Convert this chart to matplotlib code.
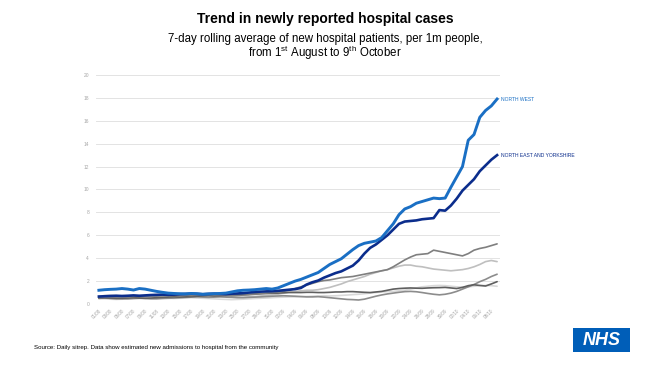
import matplotlib
matplotlib.use("Agg")
import matplotlib.pyplot as plt
from matplotlib.patches import Rectangle
import datetime as dt

plt.rcParams['font.family'] = ['Liberation Sans', 'DejaVu Sans']
plt.rcParams['mathtext.fontset'] = 'custom'
plt.rcParams['mathtext.rm'] = 'Liberation Sans'

start = dt.date(2020, 8, 1)
dates = [start + dt.timedelta(days=i) for i in range(70)]
tick_labels = [d.strftime("%d/%m") for d in dates]

north_west = [1.20, 1.25, 1.28, 1.30, 1.35, 1.30, 1.22, 1.35, 1.30, 1.20,
              1.10, 1.02, 0.95, 0.92, 0.90, 0.88, 0.92, 0.90, 0.85, 0.88,
              0.90, 0.92, 0.95, 1.05, 1.15, 1.20, 1.22, 1.25, 1.30, 1.35,
              1.30, 1.40, 1.60, 1.80, 2.00, 2.15, 2.35, 2.55, 2.75, 3.10,
              3.45, 3.70, 3.95, 4.35, 4.75, 5.10, 5.30, 5.40, 5.50, 5.80,
              6.40, 7.00, 7.80, 8.30, 8.50, 8.80, 8.95, 9.10, 9.25, 9.20,
              9.25, 10.20, 11.10, 12.00, 14.30, 14.80, 16.30, 16.90, 17.30, 17.90]

north_east_yorks = [0.65, 0.68, 0.70, 0.72, 0.70, 0.72, 0.75, 0.72, 0.75, 0.78,
                    0.80, 0.82, 0.80, 0.82, 0.85, 0.88, 0.90, 0.88, 0.85, 0.88,
                    0.90, 0.88, 0.86, 0.90, 0.92, 0.95, 1.00, 1.05, 1.08, 1.10,
                    1.12, 1.15, 1.20, 1.25, 1.30, 1.40, 1.70, 1.90, 2.05, 2.30,
                    2.50, 2.70, 2.85, 3.10, 3.35, 3.80, 4.40, 4.90, 5.20, 5.60,
                    6.00, 6.50, 7.00, 7.20, 7.25, 7.30, 7.40, 7.45, 7.50, 8.20,
                    8.15, 8.60, 9.20, 9.90, 10.40, 10.90, 11.60, 12.10, 12.60, 13.00]

midlands = [0.55, 0.55, 0.58, 0.60, 0.62, 0.60, 0.65, 0.68, 0.70, 0.72,
            0.70, 0.72, 0.75, 0.78, 0.80, 0.78, 0.75, 0.78, 0.80, 0.82,
            0.80, 0.78, 0.75, 0.72, 0.75, 0.78, 0.80, 0.85, 0.90, 0.95,
            1.00, 1.05, 1.10, 1.20, 1.35, 1.50, 1.65, 1.80, 1.95, 2.05,
            2.10, 2.20, 2.30, 2.35, 2.40, 2.50, 2.60, 2.70, 2.80, 2.90,
            3.00, 3.25, 3.55, 3.85, 4.10, 4.30, 4.35, 4.40, 4.70, 4.60,
            4.50, 4.40, 4.30, 4.20, 4.40, 4.70, 4.85, 4.95, 5.10, 5.25]

london = [0.70, 0.72, 0.75, 0.72, 0.70, 0.68, 0.65, 0.62, 0.65, 0.68,
          0.70, 0.72, 0.70, 0.68, 0.70, 0.72, 0.75, 0.78, 0.80, 0.78,
          0.75, 0.70, 0.68, 0.65, 0.62, 0.60, 0.62, 0.65, 0.70, 0.75,
          0.80, 0.85, 0.95, 1.05, 1.10, 1.15, 1.20, 1.20, 1.25, 1.35,
          1.45, 1.60, 1.75, 1.95, 2.10, 2.25, 2.40, 2.60, 2.75, 2.90,
          3.00, 3.15, 3.30, 3.40, 3.40, 3.30, 3.25, 3.15, 3.05, 3.00,
          2.95, 2.90, 2.95, 3.00, 3.10, 3.25, 3.45, 3.70, 3.80, 3.70]

south_west = [0.50, 0.52, 0.50, 0.48, 0.50, 0.52, 0.55, 0.52, 0.50, 0.52,
              0.55, 0.58, 0.60, 0.62, 0.60, 0.62, 0.65, 0.68, 0.70, 0.72,
              0.70, 0.72, 0.75, 0.78, 0.80, 0.82, 0.85, 0.88, 0.90, 0.92,
              0.95, 0.95, 0.98, 1.00, 1.00, 1.00, 1.02, 1.02, 1.00, 1.00,
              1.02, 1.05, 1.05, 1.08, 1.08, 1.05, 1.02, 1.00, 1.05, 1.10,
              1.20, 1.30, 1.35, 1.38, 1.40, 1.38, 1.37, 1.40, 1.42, 1.43,
              1.45, 1.40, 1.35, 1.45, 1.60, 1.68, 1.62, 1.57, 1.75, 1.95]

east_of_england = [0.55, 0.52, 0.50, 0.48, 0.45, 0.45, 0.48, 0.50, 0.48, 0.45,
                   0.45, 0.48, 0.50, 0.52, 0.55, 0.58, 0.60, 0.62, 0.60, 0.58,
                   0.60, 0.62, 0.60, 0.58, 0.55, 0.55, 0.58, 0.60, 0.62, 0.65,
                   0.68, 0.70, 0.72, 0.70, 0.68, 0.65, 0.62, 0.62, 0.64, 0.60,
                   0.55, 0.50, 0.45, 0.40, 0.38, 0.35, 0.42, 0.55, 0.68, 0.79,
                   0.88, 0.95, 1.02, 1.08, 1.10, 1.07, 1.00, 0.92, 0.85, 0.80,
                   0.85, 0.95, 1.10, 1.30, 1.50, 1.70, 1.95, 2.15, 2.40, 2.60]

south_east = [0.45, 0.45, 0.42, 0.40, 0.42, 0.45, 0.48, 0.50, 0.52, 0.55,
              0.55, 0.52, 0.50, 0.48, 0.50, 0.52, 0.55, 0.52, 0.50, 0.48,
              0.45, 0.42, 0.40, 0.38, 0.40, 0.42, 0.45, 0.48, 0.50, 0.52,
              0.55, 0.58, 0.60, 0.62, 0.62, 0.64, 0.66, 0.68, 0.70, 0.72,
              0.70, 0.72, 0.75, 0.78, 0.82, 0.85, 0.90, 0.95, 1.00, 1.05,
              1.08, 1.10, 1.15, 1.20, 1.30, 1.40, 1.50, 1.55, 1.60, 1.62,
              1.60, 1.55, 1.50, 1.48, 1.50, 1.55, 1.60, 1.62, 1.60, 1.55]

grey_series = [
    (south_east, "#d9d9d9"),
    (london, "#bfbfbf"),
    (east_of_england, "#8c8c8c"),
    (south_west, "#5f5f5f"),
    (midlands, "#7f7f7f"),
]

fig = plt.figure(figsize=(6.5, 3.73), dpi=100)
fig.patch.set_facecolor("white")
ax = fig.add_axes([0.1477, 0.185, 0.6215, 0.614])

x = list(range(len(dates)))
for vals, col in grey_series:
    ax.plot(x, vals, color=col, lw=1.2, solid_capstyle="round", zorder=2)

ax.plot(x, north_east_yorks, color="#0b2d8c", lw=1.9, zorder=3)
ax.plot(x, north_west, color="#1a6fc4", lw=2.1, zorder=4)

ax.text(x[-1] + 0.6, north_west[-1], "NORTH WEST", color="#1a6fc4",
        fontsize=3.6, va="center", ha="left")
ax.text(x[-1] + 0.6, north_east_yorks[-1], "NORTH EAST AND YORKSHIRE",
        color="#0b2d8c", fontsize=3.6, va="center", ha="left")

ax.set_xlim(-0.5, 69.5)
ax.set_ylim(0, 20)
ax.set_yticks(range(0, 21, 2))
ax.set_xticks(x[::2])
ax.set_xticklabels(tick_labels[::2], rotation=45, ha="right",
                   rotation_mode="anchor", fontsize=3.3, color="#a6a6a6")
ax.tick_params(axis="y", labelsize=3.5, labelcolor="#a6a6a6", length=0, pad=5)
ax.tick_params(axis="x", length=0, pad=3)
ax.grid(axis="y", color="#e3e3e3", lw=0.7)
ax.set_axisbelow(True)
for s in ax.spines.values():
    s.set_visible(False)

fig.text(0.5, 0.950, "Trend in newly reported hospital cases",
         ha="center", va="center", fontsize=10, fontweight="bold", color="black")
fig.text(0.5, 0.895,
         "7-day rolling average of new hospital patients, per 1m people,",
         ha="center", va="center", fontsize=8.3, color="black")
fig.text(0.5, 0.858,
         r"from 1$^{\mathrm{st}}$ August to 9$^{\mathrm{th}}$ October",
         ha="center", va="center", fontsize=8.3, color="black")

fig.text(0.053, 0.068,
         "Source: Daily sitrep. Data show estimated new admissions to hospital from the community",
         ha="left", va="center", fontsize=4.4, color="black")

# NHS logo
fig.patches.append(Rectangle((0.882, 0.055), 0.088, 0.066, transform=fig.transFigure,
                             facecolor="#005EB8", edgecolor="none"))
fig.text(0.926, 0.088, "NHS", ha="center", va="center", fontsize=13,
         fontweight="bold", fontstyle="italic", color="white")

fig.savefig("out.png", dpi=100, facecolor="white")
